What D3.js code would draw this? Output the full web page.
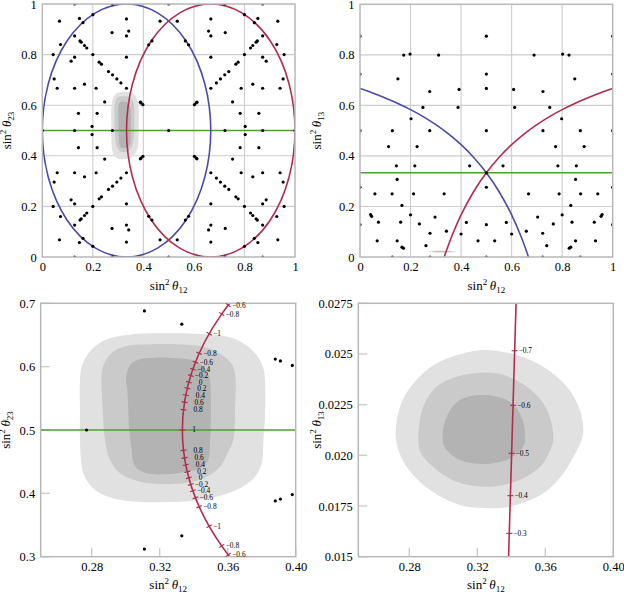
<!DOCTYPE html>
<html><head><meta charset="utf-8">
<script src="https://cdn.jsdelivr.net/npm/d3@7"></script>
<style>body{margin:0;background:#fff} svg text{font-family:"Liberation Serif","Times New Roman",serif;fill:#000}</style>
</head><body><svg id="c" width="624" height="594"></svg>
<script>
// ---------------- DATA ----------------
// Top-left panel: (sin^2 th12, sin^2 th23) predictions
const tlDotsLL = [[0.197,0.484],[0.143,0.432],[0.217,0.432],[0.247,0.387],[0.388,0.388],[0.391,0.391],[0.398,0.398],[0.059,0.333],[0.128,0.333],[0.167,0.317],[0.213,0.333],[0.333,0.333],[0.047,0.296],[0.311,0.312],[0.295,0.296],[0.278,0.280],[0.262,0.267],[0.234,0.238],[0.225,0.230],[0.114,0.226],[0.128,0.210],[0.043,0.200],[0.200,0.200],[0.333,0.210],[0.072,0.160],[0.176,0.174],[0.167,0.164],[0.154,0.151],[0.149,0.146],[0.128,0.126],[0.276,0.113],[0.333,0.126],[0.342,0.107],[0.421,0.161],[0.434,0.146],[0.161,0.074],[0.147,0.057],[0.068,0.068],[0.200,0.042],[0.333,0.059],[0.466,0.068],[0.128,0],[0.278,0]];
const tlDotsLR = [[0.803,0.484],[0.857,0.432],[0.783,0.432],[0.753,0.387],[0.612,0.388],[0.609,0.391],[0.602,0.398],[0.941,0.333],[0.872,0.333],[0.833,0.317],[0.787,0.333],[0.667,0.333],[0.953,0.296],[0.689,0.312],[0.705,0.296],[0.722,0.280],[0.738,0.267],[0.766,0.238],[0.775,0.230],[0.886,0.226],[0.872,0.210],[0.957,0.200],[0.800,0.200],[0.667,0.210],[0.928,0.160],[0.824,0.174],[0.833,0.164],[0.846,0.151],[0.851,0.146],[0.872,0.126],[0.724,0.113],[0.667,0.126],[0.658,0.107],[0.579,0.161],[0.566,0.146],[0.839,0.074],[0.853,0.057],[0.932,0.068],[0.800,0.042],[0.667,0.059],[0.534,0.068],[0.872,0],[0.722,0]];
const tlDotsUL = [[0.197,0.516],[0.143,0.568],[0.217,0.568],[0.247,0.613],[0.388,0.612],[0.391,0.609],[0.398,0.602],[0.059,0.667],[0.128,0.667],[0.167,0.683],[0.213,0.667],[0.333,0.667],[0.047,0.704],[0.311,0.688],[0.295,0.704],[0.278,0.720],[0.262,0.733],[0.234,0.762],[0.225,0.770],[0.114,0.774],[0.128,0.790],[0.043,0.800],[0.200,0.800],[0.333,0.790],[0.072,0.840],[0.176,0.826],[0.167,0.836],[0.154,0.849],[0.149,0.854],[0.128,0.874],[0.276,0.887],[0.333,0.874],[0.342,0.893],[0.421,0.839],[0.434,0.854],[0.161,0.926],[0.147,0.943],[0.068,0.932],[0.200,0.958],[0.333,0.941],[0.466,0.932],[0.128,1],[0.278,1]];
const tlDotsUR = [[0.803,0.516],[0.857,0.568],[0.783,0.568],[0.753,0.613],[0.612,0.612],[0.609,0.609],[0.602,0.602],[0.941,0.667],[0.872,0.667],[0.833,0.683],[0.787,0.667],[0.667,0.667],[0.953,0.704],[0.689,0.688],[0.705,0.704],[0.722,0.720],[0.738,0.733],[0.766,0.762],[0.775,0.770],[0.886,0.774],[0.872,0.790],[0.957,0.800],[0.800,0.800],[0.667,0.790],[0.928,0.840],[0.824,0.826],[0.833,0.836],[0.846,0.849],[0.851,0.854],[0.872,0.874],[0.724,0.887],[0.667,0.874],[0.658,0.893],[0.579,0.839],[0.566,0.854],[0.839,0.926],[0.853,0.943],[0.932,0.932],[0.800,0.958],[0.667,0.941],[0.534,0.932],[0.872,1],[0.722,1]];
const tlDotsAxes = [[0,0.5],[0.128,0.5],[0.277,0.5],[0.5,0.5],[0.723,0.5],[0.872,0.5],[1,0.5],[0.5,0],[0.5,1]];

// Top-right panel: (sin^2 th12, sin^2 th13) predictions
const trDotsLeft = [[0.173,0.799],[0.198,0.803],[0.311,0.799],[0.150,0.705],[0.276,0.655],[0.392,0.663],[0.249,0.592],[0.388,0.592],[0.202,0.547],[0.128,0.5],[0.276,0.5],[0.113,0.437],[0.226,0.437],[0.144,0.361],[0.217,0.361],[0.434,0.361],[0.147,0.307],[0.059,0.25],[0.127,0.25],[0.212,0.25],[0.333,0.25],[0.166,0.204],[0.042,0.168],[0.046,0.161],[0.2,0.167],[0.297,0.158],[0.073,0.138],[0.161,0.138],[0.235,0.131],[0.421,0.137],[0.277,0.094],[0.342,0.102],[0.4,0.091],[0.068,0.064],[0.147,0.064],[0.166,0.039],[0.172,0.035],[0.261,0.045],[0.467,0.064],[0.128,0],[0.277,0]];
const trDotsRight = [[0.827,0.799],[0.802,0.803],[0.689,0.799],[0.850,0.705],[0.724,0.655],[0.608,0.663],[0.751,0.592],[0.612,0.592],[0.798,0.547],[0.872,0.5],[0.724,0.5],[0.887,0.437],[0.774,0.437],[0.856,0.361],[0.783,0.361],[0.566,0.361],[0.853,0.307],[0.941,0.25],[0.873,0.25],[0.788,0.25],[0.667,0.25],[0.834,0.204],[0.958,0.168],[0.954,0.161],[0.8,0.167],[0.703,0.158],[0.927,0.138],[0.839,0.138],[0.765,0.131],[0.579,0.137],[0.723,0.094],[0.658,0.102],[0.6,0.091],[0.932,0.064],[0.853,0.064],[0.834,0.039],[0.828,0.035],[0.739,0.045],[0.533,0.064],[0.872,0],[0.723,0]];
const trDotsCols = [[0,0.128],[0,0.276],[0,0.5],[0,0.724],[0,0.874],[1,0.128],[1,0.276],[1,0.5],[1,0.724],[1,0.874],[0.5,0],[0.5,0.128],[0.5,0.276],[0.5,0.333],[0.5,0.5],[0.5,0.667],[0.5,0.724],[0.5,0.874]];

// Curves
const ellipseBlue = {c:[1/3,0.5], r:[1/3,0.5]};
const ellipseRed  = {c:[2/3,0.5], r:[1/3,0.5]};
const greenTL = 0.5, greenTR = 1/3, greenBL = 0.5;
const trBlueCurve = [[0,0.6667],[0.05,0.6491],[0.1,0.6296],[0.15,0.6078],[0.2,0.5833],[0.25,0.5556],[0.3,0.5238],[0.35,0.4872],[0.4,0.4444],[0.45,0.3939],[0.5,0.3333],[0.55,0.2593],[0.6,0.1667],[0.6333,0.0909],[0.65,0.0476],[0.66,0.0196],[0.6667,0]];
const trRedCurve = [[0.3333,0],[0.34,0.0196],[0.35,0.0476],[0.3667,0.0909],[0.4,0.1667],[0.45,0.2593],[0.5,0.3333],[0.55,0.3939],[0.6,0.4444],[0.65,0.4872],[0.7,0.5238],[0.75,0.5556],[0.8,0.5833],[0.85,0.6078],[0.9,0.6296],[0.95,0.6491],[1,0.6667]];
const brRedLine = [[0.3384,0.015],[0.3428,0.0275]];

// Contours (sin^2 th12, sin^2 th23)
const c23Outer = [[0.2731,0.5789],[0.2741,0.6000],[0.2774,0.6184],[0.2829,0.6342],[0.2908,0.6447],[0.3006,0.6500],[0.3143,0.6526],[0.3300,0.6526],[0.3437,0.6515],[0.3594,0.6474],[0.3692,0.6368],[0.3770,0.6184],[0.3810,0.5974],[0.3819,0.5789],[0.3819,0.52],[0.3810,0.4842],[0.3800,0.4474],[0.3761,0.4263],[0.3672,0.4079],[0.3535,0.3947],[0.3398,0.3884],[0.3241,0.3863],[0.3084,0.3863],[0.2947,0.3905],[0.2849,0.4000],[0.2790,0.4132],[0.2751,0.4316],[0.2737,0.4526],[0.2731,0.4842],[0.2731,0.53]];
const c23Mid = [[0.2859,0.5894],[0.2878,0.6079],[0.2927,0.6237],[0.3006,0.6326],[0.3143,0.6353],[0.3300,0.6353],[0.3437,0.6326],[0.3535,0.6237],[0.3614,0.6079],[0.3643,0.5894],[0.3643,0.53],[0.3633,0.4842],[0.3598,0.4631],[0.3555,0.4421],[0.3476,0.4263],[0.3359,0.4168],[0.3202,0.4147],[0.3084,0.4184],[0.2967,0.4316],[0.2908,0.4526],[0.2878,0.4842],[0.2865,0.53]];
const c23Inner = [[0.3002,0.5789],[0.3025,0.6026],[0.3084,0.6115],[0.3182,0.6142],[0.3300,0.6131],[0.3398,0.6094],[0.3457,0.6000],[0.3492,0.5841],[0.3500,0.5632],[0.3500,0.5],[0.3496,0.4842],[0.3486,0.4526],[0.3437,0.4395],[0.3319,0.4326],[0.3221,0.4300],[0.3123,0.4316],[0.3065,0.4395],[0.3041,0.4526],[0.3035,0.4684],[0.3021,0.5],[0.3010,0.5632]];
// Contours (sin^2 th12, sin^2 th13)
const c13Outer = [[0.2722,0.02076],[0.2745,0.0224],[0.2824,0.02355],[0.2961,0.02454],[0.3157,0.02511],[0.3255,0.0252],[0.3432,0.02495],[0.3588,0.02437],[0.3726,0.02339],[0.3804,0.02224],[0.3824,0.02125],[0.3814,0.02076],[0.3765,0.01993],[0.3706,0.01911],[0.3588,0.01813],[0.3392,0.01747],[0.3235,0.0174],[0.3098,0.01755],[0.2922,0.01829],[0.2785,0.01944]];
const c13Mid = [[0.2853,0.02076],[0.2882,0.0224],[0.2961,0.02339],[0.3078,0.02388],[0.3216,0.02408],[0.3353,0.02397],[0.349,0.02339],[0.3588,0.02257],[0.3637,0.02158],[0.3647,0.02076],[0.3637,0.02043],[0.3588,0.01961],[0.349,0.01895],[0.3353,0.01854],[0.3216,0.01846],[0.3078,0.0187],[0.2961,0.01928],[0.2869,0.0201]];
const c13Inner = [[0.2996,0.02076],[0.302,0.0219],[0.3098,0.02273],[0.3235,0.02298],[0.3373,0.02273],[0.3451,0.02207],[0.3481,0.02109],[0.3471,0.02043],[0.3392,0.01985],[0.3235,0.01957],[0.3098,0.01977],[0.302,0.02026]];

// Parameter ticks along curves
const blTickY = [0.697,0.683,0.652,0.621,0.607,0.596,0.586,0.5755,0.566,0.555,0.544,0.532,0.5,0.468,0.456,0.445,0.434,0.4245,0.414,0.404,0.393,0.379,0.348,0.317,0.303];
const blTickLabels = ["\u22120.6","\u22120.8","\u22121","\u22120.8","\u22120.6","\u22120.4","\u22120.2","0","0.2","0.4","0.6","0.8","1","0.8","0.6","0.4","0.2","0","\u22120.2","\u22120.4","\u22120.6","\u22120.8","\u22121","\u22120.8","\u22120.6"];
const brTickY = [0.02516,0.02247,0.0201,0.01801,0.01615];
const brTickLabels = ["\u22120.7","\u22120.6","\u22120.5","\u22120.4","\u22120.3"];

// Axis ticks
const topTicks = [0,0.2,0.4,0.6,0.8,1];
const topTickLabels = ["0","0.2","0.4","0.6","0.8","1"];
const botXTicks = [0.28,0.32,0.36,0.40];
const botXTickLabels = ["0.28","0.32","0.36","0.40"];
const blYTicks = [0.3,0.4,0.5,0.6,0.7];
const blYTickLabels = ["0.3","0.4","0.5","0.6","0.7"];
const brYTicks = [0.015,0.0175,0.020,0.0225,0.025,0.0275];
const brYTickLabels = ["0.015","0.0175","0.020","0.0225","0.025","0.0275"];

// ---------------- STYLE ----------------
const BLUE = "#4b4ca3", RED = "#b02d4f", GREEN = "#4f9e35";
const FILLS = ["#e1e1e1", "#cacaca", "#b3b3b3"];
const FRAME = "#b8b8b8", GRID = "#cdcdcd";
const SERIF = '"Liberation Serif","Times New Roman",serif';

const svg = d3.select("#c");
const defs = svg.append("defs");

function panel(o) {
  const x = d3.scaleLinear().domain(o.xd).range(o.xr);
  const y = d3.scaleLinear().domain(o.yd).range(o.yr);
  const g = svg.append("g");
  defs.append("clipPath").attr("id", "clip" + o.id).append("rect")
    .attr("x", o.xr[0]).attr("y", o.yr[1]).attr("width", o.xr[1] - o.xr[0]).attr("height", o.yr[0] - o.yr[1]);
  const back = g.append("g");
  const inner = g.append("g").attr("clip-path", `url(#clip${o.id})`);
  const front = g.append("g");
  if (o.grid) {
    back.selectAll(".gx").data(o.grid).join("line")
      .attr("x1", d => x(d)).attr("x2", d => x(d)).attr("y1", o.yr[0]).attr("y2", o.yr[1])
      .attr("stroke", GRID).attr("stroke-width", 1.1);
    back.selectAll(".gy").data(o.grid).join("line")
      .attr("y1", d => y(d)).attr("y2", d => y(d)).attr("x1", o.xr[0]).attr("x2", o.xr[1])
      .attr("stroke", GRID).attr("stroke-width", 1.1);
  } else {
    back.selectAll(".tx").data(o.xt).join("line")
      .attr("x1", d => x(d)).attr("x2", d => x(d)).attr("y1", o.yr[0]).attr("y2", o.yr[0] - 9)
      .attr("stroke", GRID).attr("stroke-width", 1.4);
    back.selectAll(".ty").data(o.yt).join("line")
      .attr("y1", d => y(d)).attr("y2", d => y(d)).attr("x1", o.xr[0]).attr("x2", o.xr[0] + 9)
      .attr("stroke", GRID).attr("stroke-width", 1.4);
  }
  front.append("rect").attr("x", o.xr[0]).attr("y", o.yr[1])
    .attr("width", o.xr[1] - o.xr[0]).attr("height", o.yr[0] - o.yr[1])
    .attr("fill", "none").attr("stroke", FRAME).attr("stroke-width", 1.5);
  const ax = d3.axisBottom(x).tickValues(o.xt).tickFormat((d, i) => o.xl[i]).tickSize(0).tickPadding(5);
  const ay = d3.axisLeft(y).tickValues(o.yt).tickFormat((d, i) => o.yl[i]).tickSize(0).tickPadding(5.5);
  const gx = front.append("g").attr("transform", `translate(0,${o.yr[0]})`).call(ax);
  const gy = front.append("g").attr("transform", `translate(${o.xr[0]},0)`).call(ay);
  [gx, gy].forEach(a => {
    a.attr("font-family", SERIF);
    a.select(".domain").remove();
    a.selectAll("text").attr("font-family", SERIF).attr("font-size", 12.5).attr("fill", "#000");
  });
  title(front, (o.xr[0] + o.xr[1]) / 2, o.yr[0] + 32.5, 0, "12");
  title(front, o.ylx, (o.yr[0] + o.yr[1]) / 2, -90, o.ysub);
  return {x, y, inner, front};
}

function title(g, cx, cy, rot, sub) {
  const t = g.append("text").attr("text-anchor", "middle").attr("font-size", 13).attr("font-family", SERIF)
    .attr("transform", `translate(${cx},${cy}) rotate(${rot})`);
  t.append("tspan").text("sin");
  t.append("tspan").attr("dy", -5).attr("font-size", 9).text("2");
  t.append("tspan").attr("dy", 5).text("\u2009");
  t.append("tspan").attr("font-style", "italic").text("\u03b8");
  t.append("tspan").attr("dy", 3).attr("font-size", 9).text(sub);
}

function contours(p, sets) {
  const line = d3.line().x(d => p.x(d[0])).y(d => p.y(d[1])).curve(d3.curveCatmullRomClosed.alpha(0.5));
  sets.forEach((s, i) => p.inner.append("path").attr("d", line(s)).attr("fill", FILLS[i]).attr("stroke", "none"));
}
function ellipse(p, e, col) {
  p.inner.append("ellipse").attr("cx", p.x(e.c[0])).attr("cy", p.y(e.c[1]))
    .attr("rx", p.x(e.c[0] + e.r[0]) - p.x(e.c[0])).attr("ry", p.y(e.c[1]) - p.y(e.c[1] + e.r[1]))
    .attr("fill", "none").attr("stroke", col).attr("stroke-width", 1.6);
}
function hline(p, v) {
  const [a, b] = p.x.domain();
  p.inner.append("line").attr("x1", p.x(a)).attr("x2", p.x(b)).attr("y1", p.y(v)).attr("y2", p.y(v))
    .attr("stroke", GREEN).attr("stroke-width", 1.6);
}
function curve(p, pts, col) {
  const line = d3.line().x(d => p.x(d[0])).y(d => p.y(d[1])).curve(d3.curveMonotoneX);
  p.inner.append("path").attr("d", line(pts)).attr("fill", "none").attr("stroke", col).attr("stroke-width", 1.6);
}
function dots(p, pts) {
  p.inner.selectAll(null).data(pts).join("circle")
    .attr("cx", d => p.x(d[0])).attr("cy", d => p.y(d[1])).attr("r", 1.6).attr("fill", "#000");
}
function curveTick(p, px, py, nx, ny, label) {
  p.front.append("line").attr("x1", px - nx * 3).attr("y1", py - ny * 3).attr("x2", px + nx * 3).attr("y2", py + ny * 3)
    .attr("stroke", RED).attr("stroke-width", 1.1);
  const neg = label.startsWith("\u2212");
  p.front.append("text").attr("x", px + (neg ? 4 : 10)).attr("y", py).attr("dy", "0.33em")
    .attr("font-family", SERIF).attr("font-size", 7.4).text(label);
}

// ---------------- PANELS ----------------
const allTL = tlDotsLL.concat(tlDotsLR, tlDotsUL, tlDotsUR, tlDotsAxes);
const allTR = trDotsLeft.concat(trDotsRight, trDotsCols);

const TL = panel({id: "tl", xd: [0, 1], yd: [0, 1], xr: [42.3, 295], yr: [257, 4],
  grid: [0.2, 0.4, 0.6, 0.8], xt: topTicks, xl: topTickLabels, yt: topTicks, yl: topTickLabels, ylx: 11, ysub: "23"});
contours(TL, [c23Outer, c23Mid, c23Inner]);
hline(TL, greenTL);
ellipse(TL, ellipseBlue, BLUE);
ellipse(TL, ellipseRed, RED);
dots(TL, allTL);

const TR = panel({id: "tr", xd: [0, 1], yd: [0, 1], xr: [360, 612.7], yr: [257, 4.3],
  grid: [0.2, 0.4, 0.6, 0.8], xt: topTicks, xl: topTickLabels, yt: topTicks, yl: topTickLabels, ylx: 321, ysub: "13"});
contours(TR, [c13Outer, c13Mid, c13Inner]);
hline(TR, greenTR);
curve(TR, trBlueCurve, BLUE);
curve(TR, trRedCurve, RED);
dots(TR, allTR);

const BL = panel({id: "bl", xd: [0.25, 0.40], yd: [0.3, 0.7], xr: [40.7, 295.7], yr: [556.7, 303.3],
  xt: botXTicks, xl: botXTickLabels, yt: blYTicks, yl: blYTickLabels, ylx: 10, ysub: "23"});
contours(BL, [c23Outer, c23Mid, c23Inner]);
hline(BL, greenBL);
ellipse(BL, ellipseRed, RED);
dots(BL, allTL);
{
  const e = ellipseRed, kx = BL.x(1) - BL.x(0), ky = BL.y(0) - BL.y(1);
  blTickY.forEach((v, i) => {
    const t = Math.asin((v - e.c[1]) / e.r[1]);
    const px = BL.x(e.c[0] - e.r[0] * Math.cos(t)), py = BL.y(v);
    let tx = e.r[0] * Math.sin(t) * kx, ty = -e.r[1] * Math.cos(t) * ky;
    const L = Math.hypot(tx, ty); tx /= L; ty /= L;
    curveTick(BL, px, py, -ty, tx, blTickLabels[i]);
  });
}

const BR = panel({id: "br", xd: [0.25, 0.40], yd: [0.015, 0.0275], xr: [358.3, 613.3], yr: [556.7, 303.3],
  xt: botXTicks, xl: botXTickLabels, yt: brYTicks, yl: brYTickLabels, ylx: 321, ysub: "13"});
contours(BR, [c13Outer, c13Mid, c13Inner]);
BR.inner.append("path").attr("d", d3.line().x(d => BR.x(d[0])).y(d => BR.y(d[1]))(brRedLine))
  .attr("fill", "none").attr("stroke", RED).attr("stroke-width", 1.6);
{
  const along = d3.scaleLinear().domain(brRedLine.map(d => d[1])).range(brRedLine.map(d => d[0]));
  brTickY.forEach((v, i) => curveTick(BR, BR.x(along(v)), BR.y(v), 1, 0, brTickLabels[i]));
}
</script></body></html>
